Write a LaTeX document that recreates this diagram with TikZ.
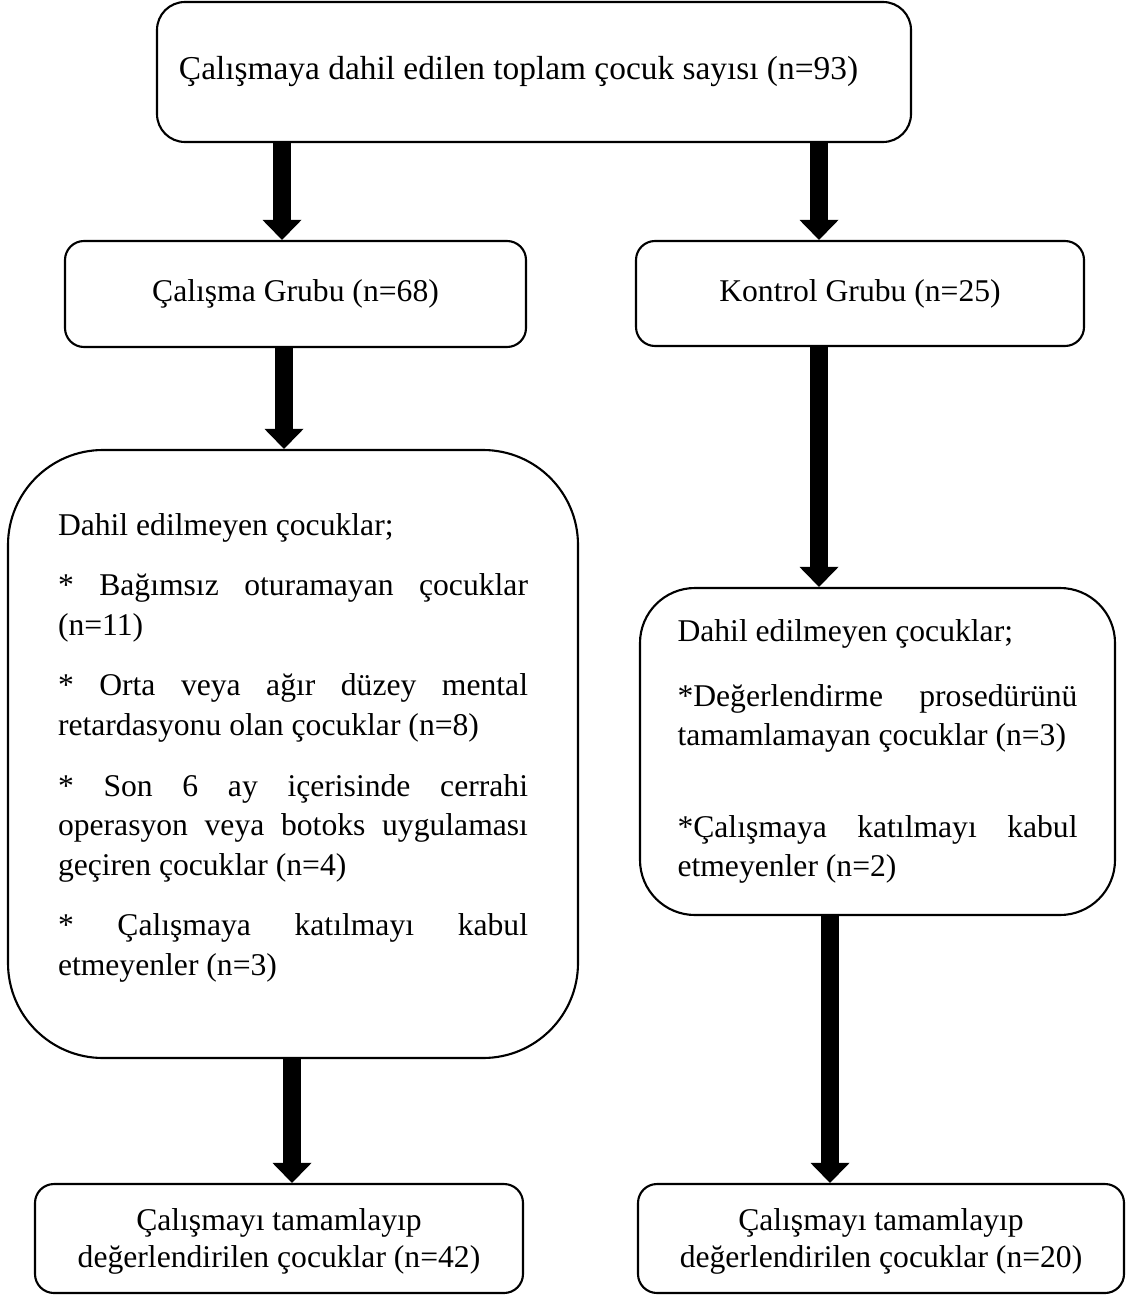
\documentclass[tikz,border=0pt]{standalone}
\usepackage{fontspec}
\setmainfont{Liberation Serif}
\usetikzlibrary{arrows.meta}

\hyphenpenalty=10000
\exhyphenpenalty=10000

\tikzset{
  box/.style={draw,line width=1.2pt,rounded corners=0.38cm,inner sep=0pt,
    font=\fontsize{18}{21}\selectfont,align=center},
  topbox/.style={box,rounded corners=0.56cm,font=\fontsize{19}{22}\selectfont},
  listbox/.style={box,align=justify,
    font={\fontsize{18}{22.5}\selectfont\tolerance=10000 }},
  flow/.style={line width=10.2pt,
    -{Triangle[length=0.4cm 0,width=0.78cm 0,line width=0pt 0]}}
}

\begin{document}
\begin{tikzpicture}
  \useasboundingbox (0,0) rectangle (22.52,-25.9);

  \node [topbox,minimum width=15.08cm,minimum height=2.8cm] (total) at (10.68,-1.44)
    {Çalışmaya dahil edilen toplam çocuk sayısı (n=93)\hspace*{0.62cm}};

  \node [box,minimum width=9.22cm,minimum height=2.12cm] (study) at (5.91,-5.88)
    {Çalışma Grubu (n=68)};
  \node [box,minimum width=8.96cm,minimum height=2.1cm] (control) at (17.2,-5.87)
    {Kontrol Grubu (n=25)};

  \node [listbox,rounded corners=1.9cm,text width=9.4cm,
         minimum width=11.4cm,minimum height=12.16cm] (exstudy) at (5.86,-15.08)
    {Dahil edilmeyen çocuklar;\par\vspace{12pt}
     * Bağımsız oturamayan çocuklar\linebreak (n=11)\par\vspace{12pt}
     * Orta veya ağır düzey mental\linebreak retardasyonu olan çocuklar (n=8)\par\vspace{12pt}
     * Son 6 ay içerisinde cerrahi\linebreak operasyon veya botoks uygulaması\linebreak
     geçiren çocuklar (n=4)\par\vspace{12pt}
     * Çalışmaya katılmayı kabul\linebreak etmeyenler (n=3)\par\vspace{-0.4cm}\mbox{}};

  \node [listbox,rounded corners=1.1cm,text width=8cm,
         minimum width=9.5cm,minimum height=6.54cm] (excontrol) at (17.55,-15.03)
    {Dahil edilmeyen çocuklar;\par\vspace{14.5pt}
     *Değerlendirme prosedürünü\linebreak tamamlamayan çocuklar (n=3)\par\vspace{29.5pt}
     *Çalışmaya katılmayı kabul\linebreak etmeyenler (n=2)};

  \node [box,minimum width=9.76cm,minimum height=2.18cm] (endstudy) at (5.58,-24.77)
    {\\[-0.2cm]Çalışmayı tamamlayıp\\değerlendirilen çocuklar (n=42)};
  \node [box,minimum width=9.72cm,minimum height=2.18cm] (endcontrol) at (17.62,-24.77)
    {\\[-0.2cm]Çalışmayı tamamlayıp\\değerlendirilen çocuklar (n=20)};

  \coordinate (a) at (5.64,0);
  \coordinate (b) at (16.38,0);
  \coordinate (c) at (5.68,0);
  \coordinate (d) at (5.84,0);
  \coordinate (e) at (16.6,0);

  \foreach \from/\to/\x in {total/study/a,total/control/b,study/exstudy/c,
                            control/excontrol/b,exstudy/endstudy/d,excontrol/endcontrol/e}
    \draw [flow] (\from.south -| \x) -- (\to.north -| \x);
\end{tikzpicture}
\end{document}
